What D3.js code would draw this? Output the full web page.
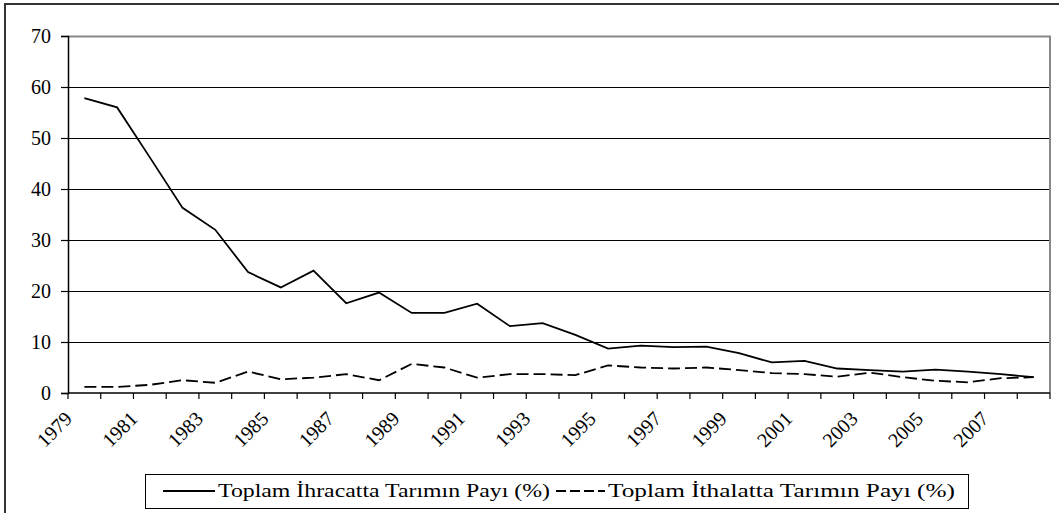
<!DOCTYPE html>
<html>
<head>
<meta charset="utf-8">
<script src="https://cdn.jsdelivr.net/npm/d3@7"></script>
<style>
  body { margin: 0; background: #fff; }
</style>
</head>
<body>
<svg id="chart" width="1059" height="513"></svg>
<script>
// yearly data
const years = d3.range(1979, 2009);
const ihracat = [57.8, 56.0, 46.2, 36.3, 32.0, 23.7, 20.7, 24.0, 17.6, 19.7,
                 15.7, 15.7, 17.5, 13.1, 13.7, 11.4, 8.7, 9.3, 9.0, 9.1,
                 7.8, 6.0, 6.3, 4.8, 4.5, 4.2, 4.6, 4.2, 3.7, 3.1];
const ithalat = [1.2, 1.2, 1.6, 2.5, 2.0, 4.2, 2.7, 3.0, 3.7, 2.5,
                 5.7, 5.0, 3.0, 3.7, 3.7, 3.5, 5.4, 5.0, 4.8, 5.0,
                 4.5, 3.9, 3.7, 3.2, 4.0, 3.1, 2.4, 2.1, 2.9, 3.1];
const yTicks = [0, 10, 20, 30, 40, 50, 60, 70];
const seriesNames = ["Toplam İhracatta Tarımın Payı (%)", "Toplam İthalatta Tarımın Payı (%)"];

const FONT = "'Liberation Serif', 'Times New Roman', serif";
const svg = d3.select("#chart");
const plot = {left: 68, right: 1050, top: 36, bottom: 393};

// outer frame
svg.append("rect")
  .attr("x", 5).attr("y", 4)
  .attr("width", 1100).attr("height", 600)
  .attr("fill", "none")
  .attr("stroke", "#333")
  .attr("stroke-width", 2);

const x = d3.scaleBand().domain(years).range([plot.left, plot.right]).padding(0);
const y = d3.scaleLinear().domain([0, 70]).range([plot.bottom, plot.top]);
const cx = d => x(d) + x.bandwidth() / 2;

// gridlines
svg.append("g")
  .selectAll("line")
  .data(yTicks.filter(t => t > 0 && t < 70))
  .enter().append("line")
    .attr("x1", plot.left).attr("x2", plot.right)
    .attr("y1", d => Math.round(y(d)) + 0.5).attr("y2", d => Math.round(y(d)) + 0.5)
    .attr("stroke", "#000").attr("stroke-width", 1);

// plot area border top / right
svg.append("path")
  .attr("d", `M${plot.left},${plot.top + 0.5}H${plot.right}V${plot.bottom}`)
  .attr("fill", "none")
  .attr("stroke", "#888")
  .attr("stroke-width", 2);

// y axis
const yAxis = svg.append("g")
  .attr("transform", `translate(${plot.left},0)`)
  .call(d3.axisLeft(y).tickValues(yTicks).tickSize(7).tickPadding(10));
yAxis.select(".domain").attr("stroke", "#000").attr("stroke-width", 1.5);
yAxis.selectAll("line").attr("stroke", "#000").attr("stroke-width", 1.2);
yAxis.selectAll("text")
  .attr("fill", "#000")
  .style("font-family", FONT)
  .style("font-size", "20px");

// x axis, ticks on category boundaries
const xg = svg.append("g");
xg.append("line")
  .attr("x1", plot.left).attr("x2", plot.right)
  .attr("y1", plot.bottom).attr("y2", plot.bottom)
  .attr("stroke", "#000").attr("stroke-width", 1.5);
xg.selectAll("line.tick")
  .data(years.map(d => x(d)).concat([plot.right]))
  .enter().append("line")
    .attr("class", "tick")
    .attr("x1", d => d).attr("x2", d => d)
    .attr("y1", plot.bottom).attr("y2", plot.bottom + 6)
    .attr("stroke", "#000").attr("stroke-width", 1.2);
xg.selectAll("text")
  .data(years.filter((d, i) => i % 2 === 0))
  .enter().append("text")
    .attr("transform", d => `translate(${cx(d) - 11},${plot.bottom + 27}) rotate(-45)`)
    .attr("text-anchor", "end")
    .style("font-family", FONT)
    .style("font-size", "20px")
    .text(d => d);

// lines
const line = d3.line()
  .x((d, i) => cx(years[i]))
  .y(d => y(d));

svg.append("path")
  .datum(ihracat)
  .attr("d", line)
  .attr("fill", "none")
  .attr("stroke", "#000")
  .attr("stroke-width", 1.8);

svg.append("path")
  .datum(ithalat)
  .attr("d", line)
  .attr("fill", "none")
  .attr("stroke", "#000")
  .attr("stroke-width", 1.8)
  .attr("stroke-dasharray", "12,5");

// legend
const legend = svg.append("g");
legend.append("rect")
  .attr("x", 145.5).attr("y", 474.5)
  .attr("width", 823).attr("height", 34)
  .attr("fill", "#fff")
  .attr("stroke", "#000").attr("stroke-width", 1);

legend.append("line")
  .attr("x1", 163).attr("x2", 215).attr("y1", 491).attr("y2", 491)
  .attr("stroke", "#000").attr("stroke-width", 1.8);
legend.append("text")
  .attr("x", 218).attr("y", 497)
  .style("font-family", FONT)
  .style("font-size", "19px")
  .attr("textLength", 332).attr("lengthAdjust", "spacingAndGlyphs")
  .text(seriesNames[0]);

legend.append("line")
  .attr("x1", 556).attr("x2", 605).attr("y1", 491).attr("y2", 491)
  .attr("stroke", "#000").attr("stroke-width", 2)
  .attr("stroke-dasharray", "10,4");
legend.append("text")
  .attr("x", 608).attr("y", 497)
  .style("font-family", FONT)
  .style("font-size", "19px")
  .attr("textLength", 347).attr("lengthAdjust", "spacingAndGlyphs")
  .text(seriesNames[1]);
</script>
</body>
</html>
